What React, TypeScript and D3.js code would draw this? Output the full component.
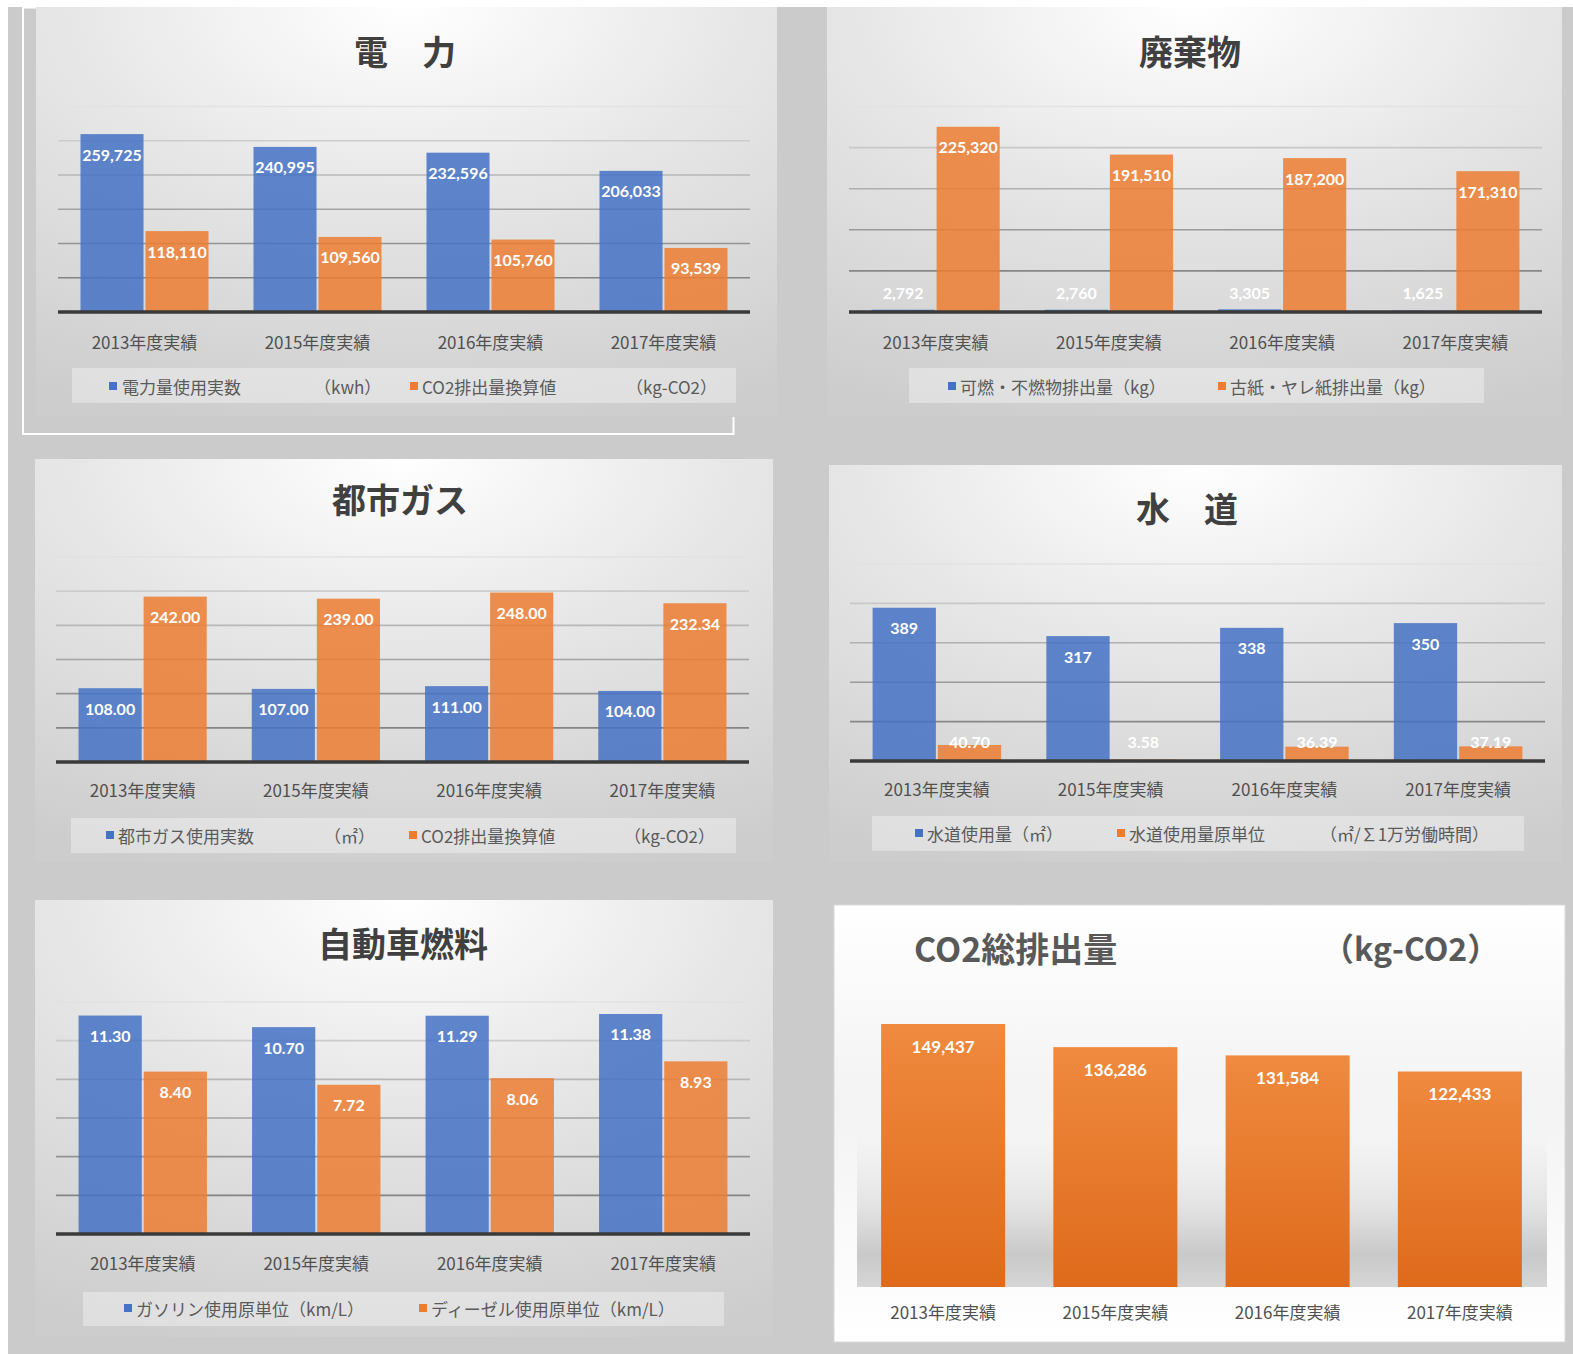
import React from "react";
import * as d3 from "d3";

// ---------- data ----------
const categories = ["2013年度実績", "2015年度実績", "2016年度実績", "2017年度実績"];

// 電力
const powerUsage = [259725, 240995, 232596, 206033];
const powerCO2 = [118110, 109560, 105760, 93539];
const powerTicks = [0, 50000, 100000, 150000, 200000, 250000, 300000];

// 廃棄物
const wasteBurnable = [2792, 2760, 3305, 1625];
const wastePaper = [225320, 191510, 187200, 171310];
const wasteTicks = [0, 50000, 100000, 150000, 200000, 250000];

// 都市ガス
const gasUsage = [108.0, 107.0, 111.0, 104.0];
const gasCO2 = [242.0, 239.0, 248.0, 232.34];
const gasTicks = [0, 50, 100, 150, 200, 250, 300];

// 水道
const waterUsage = [389, 317, 338, 350];
const waterUnit = [40.7, 3.58, 36.39, 37.19];
const waterTicks = [0, 100, 200, 300, 400, 500];

// 自動車燃料
const gasolineEff = [11.3, 10.7, 11.29, 11.38];
const dieselEff = [8.4, 7.72, 8.06, 8.93];
const fuelTicks = [0, 2, 4, 6, 8, 10, 12];

// CO2総排出量
const co2Total = [149437, 136286, 131584, 122433];
const co2Domain = [0, 160000];

// titles & legend texts
const powerTitle = "電　力";
const powerLegend = ["電力量使用実数", "CO2排出量換算値"];
const powerUnits = ["（kwh）", "（kg-CO2）"];
const wasteTitle = "廃棄物";
const wasteLegend = ["可燃・不燃物排出量（kg）", "古紙・ヤレ紙排出量（kg）"];
const gasTitle = "都市ガス";
const gasLegend = ["都市ガス使用実数", "CO2排出量換算値"];
const gasUnits = ["（㎡）", "（kg-CO2）"];
const waterTitle = "水　道";
const waterLegend = ["水道使用量（㎡）", "水道使用量原単位"];
const waterUnits = ["", "（㎡/∑1万労働時間）"];
const fuelTitle = "自動車燃料";
const fuelLegend = ["ガソリン使用原単位（km/L）", "ディーゼル使用原単位（km/L）"];
const co2Title = "CO2総排出量";
const co2Unit = "（kg-CO2）";

// ---------- styles ----------
const BLUE = "#4472c4";
const ORANGE = "#ed7d31";
const CJK = "'Noto Sans CJK JP', 'Noto Sans', sans-serif";
const NUM = "Lato, 'Noto Sans', sans-serif";

type Layout = {
  x: number; y: number; w: number; h: number;
  titleX: number; titleY: number;
  px0: number; px1: number; baseY: number; topY: number; catY: number;
  lg: { x: number; y: number; w: number; h: number; ty: number; sq: number[]; tx: number[]; ux: number[] };
};

type GroupedProps = {
  id: string;
  layout: Layout;
  title: string;
  s1: number[];
  s2: number[];
  ticks: number[];
  fmt1: (v: number) => string;
  fmt2: (v: number) => string;
  legend: string[];
  units?: string[];
};

function GroupedPanel({ id, layout: L, title, s1, s2, ticks, fmt1, fmt2, legend, units }: GroupedProps) {
  const yMax = ticks[ticks.length - 1];
  const x0 = d3.scaleBand<string>().domain(categories).range([L.px0, L.px1]).paddingInner(0.26).paddingOuter(0.13);
  const x1 = d3.scaleBand<string>().domain(["a", "b"]).range([0, x0.bandwidth()]).paddingInner(0.03);
  const y = d3.scaleLinear().domain([0, yMax]).range([L.baseY, L.topY]);
  const gridColor = d3.interpolateRgb("#7a7a7a", "#e2e2e2");
  const series = [
    { key: "a", vals: s1, color: BLUE, fmt: fmt1 },
    { key: "b", vals: s2, color: ORANGE, fmt: fmt2 },
  ];
  return (
    <g>
      <rect x={L.x} y={L.y} width={L.w} height={L.h} fill={`url(#bg-${id})`} />
      <defs>
        <radialGradient id={`bg-${id}`} cx="50%" cy="0%" r="105%" fx="50%" fy="0%">
          <stop offset="0" stopColor="#ffffff" />
          <stop offset="0.45" stopColor="#e6e6e6" />
          <stop offset="1" stopColor="#cdcdcd" />
        </radialGradient>
      </defs>
      <text x={L.titleX} y={L.titleY} textAnchor="middle" dominantBaseline="central" fontFamily={CJK} fontWeight={700} fontSize={34} fill="#404040">
        {title}
      </text>
      {ticks.filter((t) => t > 0).map((t) => (
        <line key={t} x1={L.px0} x2={L.px1} y1={y(t)} y2={y(t)} stroke={gridColor(Math.pow(t / yMax, 1.3))} strokeWidth={1.6} />
      ))}
      {categories.map((c, i) => (
        <g key={c}>
          {series.map((s) => {
            const v = s.vals[i];
            const top = y(v);
            const bx = (x0(c) as number) + (x1(s.key) as number);
            const bw = x1.bandwidth();
            const ly = Math.min(top + 20, L.baseY - 20);
            return (
              <g key={s.key}>
                <rect x={bx} y={top} width={bw} height={L.baseY - top} fill={s.color} fillOpacity={0.85} />
                <text x={bx + bw / 2} y={ly} textAnchor="middle" dominantBaseline="central" fontFamily={NUM} fontWeight={700} fontSize={16} fill="#ffffff">
                  {s.fmt(v)}
                </text>
              </g>
            );
          })}
          <text x={(x0(c) as number) + x0.bandwidth() / 2} y={L.catY} textAnchor="middle" dominantBaseline="central" fontFamily={CJK} fontSize={17} fill="#505050">
            {c}
          </text>
        </g>
      ))}
      <line x1={L.px0} x2={L.px1} y1={L.baseY} y2={L.baseY} stroke="#3a3a3a" strokeWidth={3.5} />
      <rect x={L.lg.x} y={L.lg.y} width={L.lg.w} height={L.lg.h} fill="#ffffff" fillOpacity={0.35} />
      {legend.map((name, i) => (
        <g key={name}>
          <rect x={L.lg.sq[i]} y={L.lg.ty - 4} width={8} height={8} fill={i === 0 ? BLUE : ORANGE} />
          <text x={L.lg.tx[i]} y={L.lg.ty} dominantBaseline="central" fontFamily={CJK} fontSize={17} fill="#5a5a5a">
            {name}
          </text>
          {units && units[i] ? (
            <text x={L.lg.ux[i]} y={L.lg.ty} dominantBaseline="central" fontFamily={CJK} fontSize={17} fill="#5a5a5a">
              {units[i]}
            </text>
          ) : null}
        </g>
      ))}
    </g>
  );
}

const f0 = d3.format(",");
const f2 = d3.format(".2f");
const fi = d3.format("d");

const L1: Layout = {
  x: 36, y: 7, w: 741, h: 409, titleX: 405, titleY: 50,
  px0: 58, px1: 750, baseY: 312, topY: 106.5, catY: 341,
  lg: { x: 72, y: 368, w: 664, h: 35, ty: 386, sq: [109, 410], tx: [122, 422], ux: [314, 626] },
};
const L2: Layout = {
  x: 827, y: 7, w: 735, h: 409, titleX: 1190, titleY: 50,
  px0: 849, px1: 1542, baseY: 312, topY: 106.5, catY: 341,
  lg: { x: 909, y: 368, w: 575, h: 35, ty: 386, sq: [948, 1218], tx: [960, 1230], ux: [0, 0] },
};
const L3: Layout = {
  x: 35, y: 459, w: 738, h: 403, titleX: 400, titleY: 498,
  px0: 56, px1: 749, baseY: 762, topY: 557, catY: 789,
  lg: { x: 71, y: 818, w: 665, h: 35, ty: 835, sq: [106, 409], tx: [118, 421], ux: [324, 624] },
};
const L4: Layout = {
  x: 829, y: 465, w: 733, h: 397, titleX: 1187, titleY: 507,
  px0: 850, px1: 1545, baseY: 761, topY: 564, catY: 788,
  lg: { x: 872, y: 816, w: 652, h: 35, ty: 833, sq: [915, 1117], tx: [927, 1129], ux: [0, 1320] },
};
const L5: Layout = {
  x: 35, y: 900, w: 738, h: 437, titleX: 403, titleY: 942,
  px0: 56, px1: 750, baseY: 1234, topY: 1002, catY: 1262,
  lg: { x: 83, y: 1292, w: 641, h: 34, ty: 1308, sq: [124, 419], tx: [136, 431], ux: [0, 0] },
};

function TotalPanel() {
  const P = { x: 834, y: 905, w: 731, h: 437, px0: 857, px1: 1546, baseY: 1287 };
  const pxPerUnit = 263 / 149437;
  const topY = P.baseY - co2Domain[1] * pxPerUnit;
  const x = d3.scaleBand<string>().domain(categories).range([P.px0, P.px1]).paddingInner(0.28).paddingOuter(0.14);
  const y = d3.scaleLinear().domain(co2Domain).range([P.baseY, topY]);
  return (
    <g>
      <defs>
        <linearGradient id="p6bg" x1="0" y1="0" x2="0" y2="1">
          <stop offset="0" stopColor="#ffffff" />
          <stop offset="0.45" stopColor="#f3f3f3" />
          <stop offset="1" stopColor="#ffffff" />
        </linearGradient>
        <linearGradient id="p6floor" x1="0" y1="0" x2="0" y2="1">
          <stop offset="0" stopColor="#e8e8e8" stopOpacity={0} />
          <stop offset="0.5" stopColor="#e2e2e2" stopOpacity={1} />
          <stop offset="0.8" stopColor="#c9c9c9" stopOpacity={1} />
          <stop offset="1" stopColor="#d6d6d6" stopOpacity={1} />
        </linearGradient>
        <linearGradient id="p6bar" x1="0" y1="0" x2="0" y2="1">
          <stop offset="0" stopColor="#ef8a3e" />
          <stop offset="1" stopColor="#df6a1c" />
        </linearGradient>
      </defs>
      <rect x={P.x} y={P.y} width={P.w} height={P.h} fill="url(#p6bg)" stroke="#dadada" strokeWidth={1} />
      <rect x={P.px0} y={1130} width={P.px1 - P.px0 + 1} height={P.baseY - 1130} fill="url(#p6floor)" />
      <text x={914} y={947} dominantBaseline="central" fontFamily={CJK} fontWeight={700} fontSize={34} fill="#595959">
        {co2Title}
      </text>
      <text x={1322} y={947} dominantBaseline="central" fontFamily={CJK} fontWeight={700} fontSize={32} fill="#595959">
        {co2Unit}
      </text>
      {categories.map((c, i) => {
        const v = co2Total[i];
        const bx = x(c) as number;
        const top = y(v);
        return (
          <g key={c}>
            <rect x={bx} y={top} width={x.bandwidth()} height={P.baseY - top} fill="url(#p6bar)" />
            <text x={bx + x.bandwidth() / 2} y={top + 22} textAnchor="middle" dominantBaseline="central" fontFamily={NUM} fontWeight={700} fontSize={17} fill="#ffffff">
              {f0(v)}
            </text>
            <text x={bx + x.bandwidth() / 2} y={1311} textAnchor="middle" dominantBaseline="central" fontFamily={CJK} fontSize={17} fill="#505050">
              {c}
            </text>
          </g>
        );
      })}
    </g>
  );
}

export default function App() {
  return (
    <svg width={1573} height={1354} style={{ position: "absolute", left: 0, top: 0 }} xmlns="http://www.w3.org/2000/svg">
      <rect x={0} y={0} width={1573} height={1354} fill="#ffffff" />
      <rect x={8} y={7} width={1565} height={1347} fill="#cbcbcb" />
      <GroupedPanel id="p1" layout={L1} title={powerTitle} s1={powerUsage} s2={powerCO2} ticks={powerTicks} fmt1={f0} fmt2={f0} legend={powerLegend} units={powerUnits} />
      <polyline points="36,7.5 23,7.5 23,434 733.5,434 733.5,417" fill="none" stroke="#ffffff" strokeWidth={2} />
      <GroupedPanel id="p2" layout={L2} title={wasteTitle} s1={wasteBurnable} s2={wastePaper} ticks={wasteTicks} fmt1={f0} fmt2={f0} legend={wasteLegend} />
      <GroupedPanel id="p3" layout={L3} title={gasTitle} s1={gasUsage} s2={gasCO2} ticks={gasTicks} fmt1={f2} fmt2={f2} legend={gasLegend} units={gasUnits} />
      <GroupedPanel id="p4" layout={L4} title={waterTitle} s1={waterUsage} s2={waterUnit} ticks={waterTicks} fmt1={fi} fmt2={f2} legend={waterLegend} units={waterUnits} />
      <GroupedPanel id="p5" layout={L5} title={fuelTitle} s1={gasolineEff} s2={dieselEff} ticks={fuelTicks} fmt1={f2} fmt2={f2} legend={fuelLegend} />
      <TotalPanel />
    </svg>
  );
}
